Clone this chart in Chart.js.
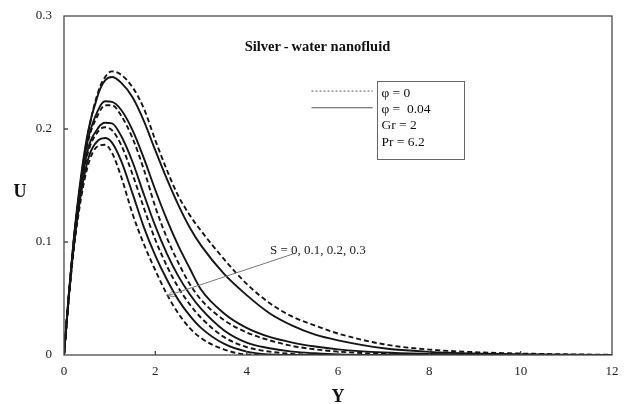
<!DOCTYPE html>
<html><head><meta charset="utf-8">
<script src="https://cdn.jsdelivr.net/npm/chart.js@4.4.0/dist/chart.umd.min.js"></script>
<style>html,body{margin:0;padding:0;background:#fff;}</style>
</head><body>
<canvas id="c" width="625" height="404" style="width:625px;height:404px;display:block"></canvas>
<script>
// Y positions (shared by all curves)
const yValues = [0, 0.1, 0.25, 0.5, 0.75, 0.9, 1.05, 1.25, 1.5, 1.75, 2, 2.25, 2.5, 2.75, 3, 3.5, 4, 4.5, 5, 5.5, 6, 7, 8, 9, 10, 11, 12];
// phi = 0 (dashed), S = 0, 0.1, 0.2, 0.3
const uPhi0_S0  = [0, 0.05, 0.115, 0.19, 0.233, 0.246, 0.251, 0.248, 0.237, 0.218, 0.19, 0.164, 0.141, 0.124, 0.11, 0.085, 0.063, 0.046, 0.034, 0.026, 0.019, 0.0095, 0.0048, 0.0025, 0.0013, 0.0006, 0.0002];
const uPhi0_S01 = [0, 0.05, 0.114, 0.184, 0.213, 0.221, 0.221, 0.212, 0.192, 0.164, 0.131, 0.104, 0.082, 0.063, 0.049, 0.031, 0.02, 0.013, 0.008, 0.005, 0.003, 0.001, 0, 0, 0, 0, 0];
const uPhi0_S02 = [0, 0.049, 0.11, 0.175, 0.198, 0.2015, 0.199, 0.186, 0.16, 0.13, 0.102, 0.079, 0.06, 0.045, 0.033, 0.016, 0.007, 0.003, 0.001, 0, 0, 0, 0, 0, 0, 0, 0];
const uPhi0_S03 = [0, 0.048, 0.105, 0.164, 0.185, 0.186, 0.179, 0.158, 0.125, 0.098, 0.075, 0.054, 0.037, 0.024, 0.015, 0.005, 0.0005, 0, 0, 0, 0, 0, 0, 0, 0, 0, 0];
// phi = 0.04 (solid), S = 0, 0.1, 0.2, 0.3
const uPhi04_S0  = [0, 0.051, 0.117, 0.192, 0.231, 0.243, 0.246, 0.241, 0.228, 0.207, 0.181, 0.156, 0.133, 0.113, 0.097, 0.072, 0.053, 0.037, 0.026, 0.018, 0.013, 0.006, 0.0028, 0.0013, 0.0006, 0.0002, 0];
const uPhi04_S01 = [0, 0.05, 0.115, 0.186, 0.217, 0.2245, 0.224, 0.217, 0.199, 0.174, 0.146, 0.12, 0.097, 0.077, 0.058, 0.037, 0.024, 0.016, 0.011, 0.0075, 0.005, 0.0022, 0.001, 0.0004, 0.0001, 0, 0];
const uPhi04_S02 = [0, 0.05, 0.112, 0.178, 0.201, 0.2055, 0.205, 0.194, 0.171, 0.142, 0.114, 0.09, 0.07, 0.054, 0.041, 0.022, 0.011, 0.006, 0.003, 0.0015, 0.0005, 0, 0, 0, 0, 0, 0];
const uPhi04_S03 = [0, 0.049, 0.108, 0.169, 0.19, 0.192, 0.188, 0.172, 0.143, 0.113, 0.088, 0.067, 0.049, 0.035, 0.024, 0.01, 0.003, 0.0005, 0, 0, 0, 0, 0, 0, 0, 0, 0];

const xTicks = [0, 2, 4, 6, 8, 10, 12];
const yTicks = [0, 0.1, 0.2, 0.3];
const xTickLabels = ['0', '2', '4', '6', '8', '10', '12'];
const yTickLabels = ['0', '0.1', '0.2', '0.3'];
const legendLines = ['\u03C6 = 0', '\u03C6 =  0.04', 'Gr = 2', 'Pr = 6.2'];
const titleText = 'Silver\u2009-\u2009water nanofluid';
const arrowText = 'S = 0, 0.1, 0.2, 0.3';
const xAxisTitle = 'Y';
const yAxisTitle = 'U';

const SERIF = '"Liberation Serif", "Times New Roman", serif';

function pts(arr) { return yValues.map((x, i) => ({ x: x, y: arr[i] })); }
function ds(arr, dashed) {
  return {
    data: pts(arr), showLine: true, pointRadius: 0, borderColor: '#151515',
    borderWidth: 1.9, borderDash: dashed ? [5, 3] : [], cubicInterpolationMode: 'monotone',
    fill: false
  };
}

const decor = {
  id: 'decor',
  afterDraw(chart) {
    const ctx = chart.ctx, a = chart.chartArea, sx = chart.scales.x, sy = chart.scales.y;
    const X = v => sx.getPixelForValue(v), Y = v => sy.getPixelForValue(v);
    ctx.save();
    // frame
    ctx.strokeStyle = '#4a4a4a'; ctx.lineWidth = 1.3; ctx.setLineDash([]);
    ctx.strokeRect(a.left, a.top, a.right - a.left, a.bottom - a.top);
    // inside ticks
    ctx.beginPath();
    yTicks.forEach(v => { if (v > 0 && v < 0.3) { ctx.moveTo(a.left, Y(v)); ctx.lineTo(a.left + 4, Y(v)); } });
    xTicks.forEach(v => { if (v > 0 && v < 12) { ctx.moveTo(X(v), a.bottom); ctx.lineTo(X(v), a.bottom - 4); } });
    ctx.stroke();
    // title
    ctx.fillStyle = '#111'; ctx.font = 'bold 14.5px ' + SERIF; ctx.textAlign = 'center'; ctx.textBaseline = 'middle';
    ctx.fillText(titleText, X(5.55), Y(0.2722));
    // axis titles
    ctx.font = 'bold 18px ' + SERIF;
    ctx.fillText(yAxisTitle, 20, (a.top + a.bottom) / 2 + 7);
    ctx.fillText(xAxisTitle, (a.left + a.right) / 2, a.bottom + 42);
    // legend lines
    ctx.strokeStyle = '#555'; ctx.lineWidth = 1;
    ctx.setLineDash([2, 2]);
    ctx.beginPath(); ctx.moveTo(X(5.42), Y(0.2336)); ctx.lineTo(X(6.76), Y(0.2336)); ctx.stroke();
    ctx.setLineDash([]);
    ctx.lineWidth = 1.2;
    ctx.beginPath(); ctx.moveTo(X(5.42), Y(0.2188)); ctx.lineTo(X(6.76), Y(0.2188)); ctx.stroke();
    // legend box
    ctx.strokeStyle = '#666'; ctx.lineWidth = 1;
    ctx.strokeRect(Math.round(X(6.85)) + 0.5, Math.round(Y(0.2427)) + 0.5, Math.round(X(8.76) - X(6.85)), Math.round(Y(0.1735) - Y(0.2427)));
    ctx.font = '13.5px ' + SERIF; ctx.textAlign = 'left'; ctx.fillStyle = '#111';
    const rows = [0.2318, 0.2177, 0.2035, 0.1885];
    legendLines.forEach((t, i) => ctx.fillText(t, X(6.95), Y(rows[i])));
    // arrow
    const x1 = X(5.06), y1 = Y(0.09), x2 = X(2.27), y2 = Y(0.0525);
    ctx.strokeStyle = '#777'; ctx.lineWidth = 1;
    ctx.beginPath(); ctx.moveTo(x1, y1); ctx.lineTo(x2, y2); ctx.stroke();
    const ang = Math.atan2(y2 - y1, x2 - x1), L = 7, w = 0.45;
    ctx.beginPath();
    ctx.moveTo(x2 - L * Math.cos(ang - w), y2 - L * Math.sin(ang - w));
    ctx.lineTo(x2, y2);
    ctx.lineTo(x2 - L * Math.cos(ang + w), y2 - L * Math.sin(ang + w));
    ctx.stroke();
    ctx.fillStyle = '#222'; ctx.font = '13px ' + SERIF;
    ctx.fillText(arrowText, X(4.51), Y(0.092));
    ctx.restore();
  }
};

new Chart(document.getElementById('c'), {
  type: 'scatter',
  data: {
    datasets: [
      ds(uPhi04_S0, false), ds(uPhi04_S01, false), ds(uPhi04_S02, false), ds(uPhi04_S03, false),
      ds(uPhi0_S0, true), ds(uPhi0_S01, true), ds(uPhi0_S02, true), ds(uPhi0_S03, true)
    ]
  },
  options: {
    responsive: false, animation: false,
    layout: { padding: { left: 0, right: 13, top: 16, bottom: 0 } },
    plugins: { legend: { display: false }, tooltip: { enabled: false } },
    scales: {
      x: {
        type: 'linear', min: 0, max: 12,
        afterFit: s => { s.height = 49; s.paddingLeft = 0; s.paddingRight = 0; s.paddingTop = 0; s.paddingBottom = 0; },
        afterBuildTicks: s => { s.ticks = xTicks.map(v => ({ value: v })); },
        ticks: { padding: 9, color: '#222', font: { family: SERIF, size: 13 }, maxRotation: 0,
                 callback: (v) => xTickLabels[xTicks.indexOf(v)] },
        grid: { display: false, drawTicks: false },
        border: { display: false },
        title: { display: false }
      },
      y: {
        type: 'linear', min: 0, max: 0.3,
        afterFit: s => { s.width = 64; s.paddingLeft = 0; s.paddingRight = 0; s.paddingTop = 0; s.paddingBottom = 0; },
        afterBuildTicks: s => { s.ticks = yTicks.map(v => ({ value: v })); },
        ticks: { padding: 12, color: '#222', font: { family: SERIF, size: 13 },
                 callback: (v) => yTickLabels[yTicks.findIndex(t => Math.abs(t - v) < 1e-9)] },
        grid: { display: false, drawTicks: false },
        border: { display: false }
      }
    }
  },
  plugins: [decor]
});
</script>
</body></html>
